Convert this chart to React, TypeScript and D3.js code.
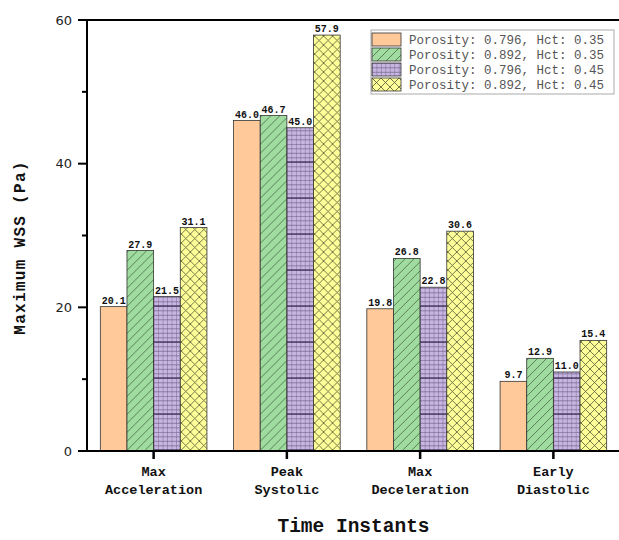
import React from "react";
import * as d3 from "d3";

const categories = ["Max Acceleration", "Peak Systolic", "Max Deceleration", "Early Diastolic"];
const categoryLines = [["Max", "Acceleration"], ["Peak", "Systolic"], ["Max", "Deceleration"], ["Early", "Diastolic"]];
const seriesNames = [
  "Porosity: 0.796, Hct: 0.35",
  "Porosity: 0.892, Hct: 0.35",
  "Porosity: 0.796, Hct: 0.45",
  "Porosity: 0.892, Hct: 0.45",
];
const s1 = [20.1, 46.0, 19.8, 9.7];
const s2 = [27.9, 46.7, 26.8, 12.9];
const s3 = [21.5, 45.0, 22.8, 11.0];
const s4 = [31.1, 57.9, 30.6, 15.4];
const seriesValues = [s1, s2, s3, s4];
const majorTicks = [0, 20, 40, 60];
const minorTicks = [10, 30, 50];

const W = 619, H = 540;
const left = 87, right = 620, top = 20, bottom = 451;
const fills = ["#FFC999", "#A0DBA0", "#C8B6E2", "#FFFF99"];
const patIds = ["pOrange", "pGreen", "pPurple", "pYellow"];
const mono = "'Liberation Mono', 'DejaVu Sans Mono', monospace";

export default function App() {
  const x0 = d3.scaleBand<string>().domain(categories).range([left, right]).paddingInner(0.2).paddingOuter(0.1);
  const x1 = d3.scaleBand<string>().domain(seriesNames).range([0, x0.bandwidth()]).padding(0);
  const y = d3.scaleLinear().domain([0, 60]).range([bottom, top]);

  return (
    <svg width={W} height={H} style={{ position: "absolute", left: 0, top: 0, background: "#fff" }}>
      <defs>
        <pattern id="pOrange" patternUnits="userSpaceOnUse" width={10} height={10}>
          <rect width={10} height={10} fill={fills[0]} />
        </pattern>
        <pattern id="pGreen" patternUnits="userSpaceOnUse" width={9} height={9}>
          <rect width={9} height={9} fill={fills[1]} />
          <path d="M-1,10 L10,-1 M-2,2 L2,-2 M7,11 L11,7" stroke="#3a5a3a" strokeWidth={0.7} />
        </pattern>
        <pattern id="pPurple" patternUnits="userSpaceOnUse" width={4.45} height={36}>
          <rect width={4.45} height={36} fill={fills[2]} />
          <line x1={0.2} y1={0} x2={0.2} y2={36} stroke="#6a5a80" strokeWidth={0.6} />
          {d3.range(0, 36, 4.5).map((v, i) => (
            <line key={i} x1={0} y1={v + 0.3} x2={4.45} y2={v + 0.3} stroke="#6a5a80" strokeWidth={0.6} />
          ))}
          <line x1={0} y1={18} x2={4.45} y2={18} stroke="#2a2040" strokeWidth={1.1} />
        </pattern>
        <pattern id="pYellow" patternUnits="userSpaceOnUse" width={9} height={9}>
          <rect width={9} height={9} fill={fills[3]} />
          <path d="M0,0 L9,9 M9,0 L0,9" stroke="#555533" strokeWidth={0.8} />
        </pattern>
      </defs>

      {/* bars */}
      {categories.map((c, ci) => (
        <g key={c} transform={`translate(${x0(c)},0)`}>
          {seriesNames.map((s, si) => {
            const v = seriesValues[si][ci];
            const bx = x1(s)!;
            const bw = x1.bandwidth();
            return (
              <g key={s}>
                <rect x={bx} y={y(v)} width={bw} height={bottom - y(v)} fill={`url(#${patIds[si]})`} stroke="#333" strokeWidth={0.8} />
                <text x={bx + bw / 2} y={y(v) - 3} textAnchor="middle" fontFamily={mono} fontWeight="bold" fontSize={10} fill="#111">
                  {v.toFixed(1)}
                </text>
              </g>
            );
          })}
        </g>
      ))}

      {/* frame */}
      <line x1={left} y1={top} x2={W} y2={top} stroke="#000" strokeWidth={2} />
      <line x1={left} y1={top - 1} x2={left} y2={bottom + 1} stroke="#000" strokeWidth={2} />
      <line x1={left - 1} y1={bottom} x2={W} y2={bottom} stroke="#000" strokeWidth={2} />

      {/* y ticks */}
      {majorTicks.map((t) => (
        <g key={t}>
          <line x1={left - 9} x2={left} y1={y(t)} y2={y(t)} stroke="#000" strokeWidth={2} />
          <text x={left - 15} y={y(t)} dy="0.36em" textAnchor="end" fontFamily="'DejaVu Sans', sans-serif" fontSize={13} fill="#222">
            {t}
          </text>
        </g>
      ))}
      {minorTicks.map((t) => (
        <line key={t} x1={left - 5} x2={left} y1={y(t)} y2={y(t)} stroke="#000" strokeWidth={2} />
      ))}

      {/* x ticks */}
      {categories.map((c, ci) => {
        const cx = x0(c)! + x0.bandwidth() / 2;
        return (
          <g key={c}>
            <line x1={cx} x2={cx} y1={bottom} y2={bottom + 8} stroke="#000" strokeWidth={2.5} />
            {categoryLines[ci].map((ln, li) => (
              <text key={li} x={cx} y={476 + li * 18} textAnchor="middle" fontFamily={mono} fontWeight="bold" fontSize={13.5} fill="#111">
                {ln}
              </text>
            ))}
          </g>
        );
      })}

      {/* axis titles */}
      <text x={(left + right) / 2} y={532} textAnchor="middle" fontFamily={mono} fontWeight="bold" fontSize={19.5} fill="#111">
        Time Instants
      </text>
      <text transform={`translate(25,${(top + bottom) / 2 + 12}) rotate(-90)`} textAnchor="middle" fontFamily={mono} fontWeight="bold" fontSize={16} letterSpacing={1.3} fill="#111">
        Maximum WSS (Pa)
      </text>

      {/* legend */}
      <rect x={371} y={30} width={243} height={64} fill="#fff" stroke="#aaa" strokeWidth={1} />
      {seriesNames.map((s, si) => (
        <g key={s} transform={`translate(372,${33 + si * 15})`}>
          <rect x={0} y={0} width={29} height={13} fill={`url(#${patIds[si]})`} stroke="#333" strokeWidth={0.8} />
          <text x={37} y={10.5} fontFamily={mono} fontSize={12.5} fill="#555">
            {s}
          </text>
        </g>
      ))}
    </svg>
  );
}
